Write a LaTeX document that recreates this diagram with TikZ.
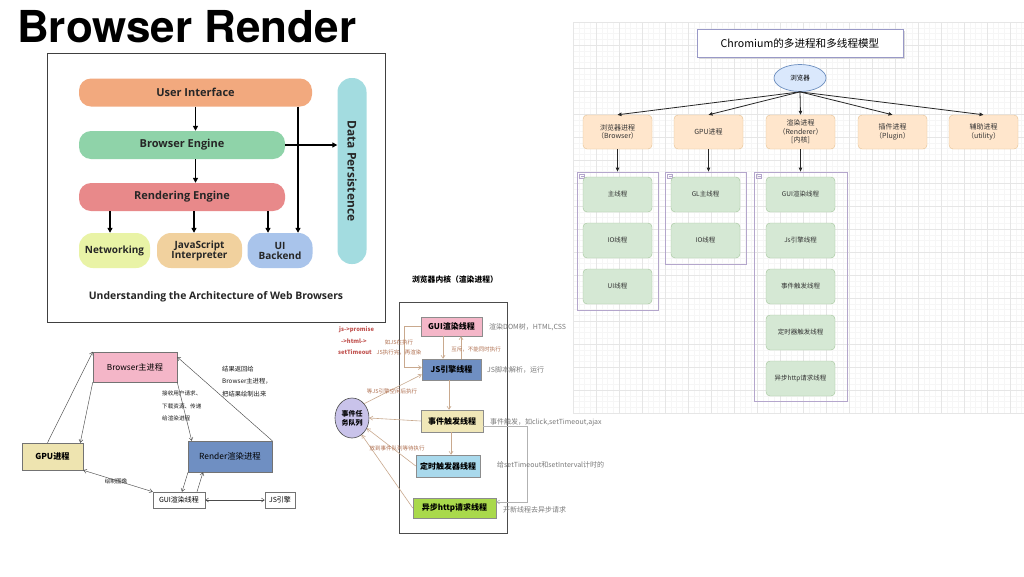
\documentclass[tikz,border=0pt]{standalone}
\usepackage{fontspec}
\newfontfamily\cjk{Noto Sans CJK SC}
\newfontfamily\heros{TeX Gyre Heros}
\newfontfamily\opens{Open Sans}
\usetikzlibrary{arrows.meta,shapes.geometric,shapes.misc}
\definecolor{uiC}{HTML}{F2A97E}
\definecolor{beC}{HTML}{8FD3A9}
\definecolor{reC}{HTML}{E8898A}
\definecolor{netC}{HTML}{E9F3A6}
\definecolor{jsC}{HTML}{F1D19E}
\definecolor{uibC}{HTML}{A9C4EB}
\definecolor{dpC}{HTML}{A3DCE0}
\definecolor{procF}{HTML}{FFE6CC}
\definecolor{procD}{HTML}{E6C190}
\definecolor{thrF}{HTML}{D5E8D4}
\definecolor{thrD}{HTML}{A3C49A}
\definecolor{contD}{HTML}{B4A6CC}
\definecolor{ellF}{HTML}{DAE8FC}
\definecolor{ellD}{HTML}{6C8EBF}
\definecolor{pinkC}{HTML}{F4B6C8}
\definecolor{khakiC}{HTML}{EEE4B0}
\definecolor{steelC}{HTML}{6F8FC2}
\definecolor{skyC}{HTML}{A9D9EC}
\definecolor{limeC}{HTML}{A9D94B}
\definecolor{lavC}{HTML}{C9C3EA}
\definecolor{tanC}{HTML}{C9A98E}
\definecolor{brownT}{HTML}{B07050}
\definecolor{redT}{HTML}{C0504D}
\definecolor{grayT}{HTML}{7A7A7A}
\definecolor{gridMinor}{HTML}{F6F6F6}
\definecolor{gridMajor}{HTML}{E6E6E6}
\begin{document}
\begin{tikzpicture}[x=1pt,y=-1pt,font=\cjk,
  gminor/.style={draw=gridMinor,line width=0.4pt},
  gmajor/.style={draw=gridMajor,line width=0.5pt},
  pone/.style={font=\opens\bfseries\fontsize{11}{12}\selectfont,align=center,inner sep=0pt,text=black!85},
  ptwo/.style={font=\opens\bfseries\fontsize{10}{11}\selectfont,align=center,inner sep=0pt,text=black!85},
  arrA/.style={line width=1.3pt,-{Triangle[length=5pt,width=5pt]}},
  proc/.style={draw=procD,fill=procF,rounded corners=4pt,minimum width=69pt,minimum height=34pt,
    font=\cjk\fontsize{7}{8.5}\selectfont,align=center,text=black!80,inner sep=1pt},
  thr/.style={draw=thrD,fill=thrF,rounded corners=4pt,minimum width=69pt,minimum height=35pt,
    font=\cjk\fontsize{6.5}{8}\selectfont,align=center,text=black!80,inner sep=1pt},
  cont/.style={draw=contD,line width=0.8pt,inner sep=0pt},
  arrB/.style={draw=black!85,line width=0.8pt,-{Triangle[length=4pt,width=3.5pt]}},
  bbox/.style={draw=black!55,line width=0.5pt,inner sep=1pt,align=center},
  arrC/.style={draw=black!70,line width=0.45pt,-{Straight Barb[length=3pt,width=4pt]}},
  arrCC/.style={draw=black!70,line width=0.45pt,{Straight Barb[length=3pt,width=4pt]}-{Straight Barb[length=3pt,width=4pt]}},
  arrT/.style={draw=tanC,line width=0.6pt,-{Straight Barb[length=3pt,width=4pt]}},
  lblS/.style={font=\cjk\fontsize{5.6}{12.5}\selectfont,inner sep=0pt,align=left,text=black!90},
  lblB/.style={font=\cjk\fontsize{5.5}{7}\selectfont,inner sep=0pt,text=brownT},
  lblG/.style={font=\cjk\fontsize{7}{8}\selectfont,inner sep=0pt,text=grayT,anchor=west},
  lblR/.style={font=\cjk\bfseries\fontsize{5.8}{7}\selectfont,text=redT,inner sep=0pt,anchor=west},
  tbox/.style={draw=black!45,line width=0.5pt,inner sep=1pt,align=center,font=\cjk\bfseries\fontsize{8}{9}\selectfont}
]
\useasboundingbox[fill=white] (0,0) rectangle (1024,576);

% ---------- grid of the draw.io screenshot ----------
\foreach \i in {0,...,78} { \draw[gminor] ({573+5.75*\i},22) -- ({573+5.75*\i},413); }
\foreach \j in {0,...,68} { \draw[gminor] (573,{22+5.75*\j}) -- (1024,{22+5.75*\j}); }
\foreach \i in {0,...,19} { \draw[gmajor] ({573+23*\i},22) -- ({573+23*\i},413); }
\foreach \j in {0,...,17} { \draw[gmajor] (573,{22+23*\j}) -- (1024,{22+23*\j}); }

% ---------- title ----------
\node[anchor=base west,inner sep=0pt,font=\heros\bfseries\fontsize{44}{44}\selectfont] (title) at (17,42) {Browser Render};

% ---------- panel 1 ----------
\draw[draw=black!75,line width=0.9pt] (47,53) rectangle (385,322);
\node[pone,fill=uiC,rounded corners=12pt,minimum width=233pt,minimum height=28pt] (ui) at (195.5,92.5) {User Interface};
\node[pone,fill=beC,rounded corners=12pt,minimum width=206pt,minimum height=28pt] (be) at (182,145) {Browser Engine};
\node[pone,fill=reC,rounded corners=12pt,minimum width=206pt,minimum height=28pt] (re) at (182,197) {Rendering Engine};
\node[ptwo,fill=netC,rounded corners=14pt,minimum width=71pt,minimum height=35pt] (net) at (114.5,250.5) {Networking};
\node[ptwo,fill=jsC,rounded corners=14pt,minimum width=85pt,minimum height=35pt] (js) at (199.5,250.5) {JavaScript\\[-1pt]Interpreter};
\node[ptwo,fill=uibC,rounded corners=14pt,minimum width=65pt,minimum height=35pt] (uib) at (280,250.5) {UI\\[-1pt]Backend};
\node[pone,fill=dpC,rounded corners=14pt,minimum width=29pt,minimum height=186pt] (dp) at (352,171) {};
\node[pone,rotate=-90,font=\opens\bfseries\fontsize{12}{13}\selectfont] (dpt) at (dp.center) {Data Persistence};
\node[pone,font=\opens\bfseries\fontsize{10.4}{12}\selectfont] (cap) at (216,297) {Understanding the Architecture of Web Browsers};
\coordinate (a110) at (110,0);
\coordinate (a194) at (194,0);
\coordinate (a268) at (268,0);
\coordinate (a298) at (298,0);
\draw[arrA] (ui.south) -- (ui.south |- be.north);
\draw[arrA] (be.south -| ui.south) -- (re.north -| ui.south);
\draw[arrA] (re.south -| a110) -- (net.north -| a110);
\draw[arrA] (re.south -| a194) -- (js.north -| a194);
\draw[arrA] (re.south -| a268) -- (uib.north -| a268);
\draw[arrA] (ui.south -| a298) -- (uib.north -| a298);
\draw[arrA] (be.east) -- (dp.west |- be.east);

% ---------- panel 2 : Chromium model ----------
\fill[black!15] (699,31) rectangle (905,59);
\node[draw=black!55!blue!40,fill=white,line width=1pt,minimum width=206pt,minimum height=28pt,font=\cjk\fontsize{10.6}{12}\selectfont] (ctitle) at (800,43) {Chromium的多进程和多线程模型};
\node[ellipse,draw=ellD,fill=ellF,line width=0.7pt,minimum width=52pt,minimum height=27pt,inner sep=0pt,font=\cjk\fontsize{6.5}{8}\selectfont] (brw) at (800,78) {浏览器};
\node[proc] (p1) at (617.5,132) {浏览器进程\\（Browser）};
\node[proc] (p2) at (708.5,132) {GPU进程};
\node[proc] (p3) at (800.5,132) {渲染进程\\（Renderer）\\{}[内核]};
\node[proc] (p4) at (892.5,132) {插件进程\\（Plugin）};
\node[proc] (p5) at (983.5,132) {辅助进程\\（utility）};
\foreach \p in {p1,p2,p3,p4,p5} { \draw[arrB] (brw.south) -- (\p.north); }

\node[cont,minimum width=81pt,minimum height=138pt] (c1) at (617.5,241) {};
\node[cont,minimum width=81pt,minimum height=92pt] (c2) at (705.5,218) {};
\node[cont,minimum width=93pt,minimum height=229pt] (c3) at (800.5,286.5) {};
\foreach \c in {c1,c2,c3} {
  \draw[draw=contD,line width=0.5pt] ([shift={(3pt,-3pt)}]\c.north west) rectangle ([shift={(8pt,-7pt)}]\c.north west);
  \draw[draw=contD,line width=0.5pt] ([shift={(4pt,-5pt)}]\c.north west) -- ([shift={(7pt,-5pt)}]\c.north west);
}
\draw[arrB] (p1.south) -- (p1.south |- c1.north);
\draw[arrB] (p2.south) -- (p2.south |- c2.north);
\draw[arrB] (p3.south) -- (p3.south |- c3.north);

\node[thr] (t11) at (617.5,194.5) {主线程};
\node[thr] (t12) at (617.5,240.5) {IO线程};
\node[thr] (t13) at (617.5,286.5) {UI线程};
\node[thr] (t21) at (705.5,194.5) {GL主线程};
\node[thr] (t22) at (705.5,240.5) {IO线程};
\node[thr] (t31) at (800.5,194.5) {GUI渲染线程};
\node[thr] (t32) at (800.5,240.5) {Js引擎线程};
\node[thr] (t33) at (800.5,286.5) {事件触发线程};
\node[thr] (t34) at (800.5,332.5) {定时器触发线程};
\node[thr] (t35) at (800.5,378.5) {异步http请求线程};

% ---------- panel 3 : processes ----------
\node[bbox,fill=pinkC,minimum width=84pt,minimum height=30pt,font=\cjk\fontsize{8.2}{9}\selectfont] (bm) at (135,367) {Browser主进程};
\node[bbox,fill=khakiC,minimum width=61pt,minimum height=27pt,font=\cjk\bfseries\fontsize{8.2}{9}\selectfont] (gpu) at (52.5,456.5) {GPU进程};
\node[bbox,fill=steelC,minimum width=84pt,minimum height=31pt,font=\cjk\fontsize{8.4}{9}\selectfont] (rd) at (230,456.5) {Render渲染进程};
\node[bbox,fill=white,minimum width=52pt,minimum height=16pt,font=\cjk\fontsize{7}{8}\selectfont] (gui) at (179,500) {GUI渲染线程};
\node[bbox,fill=white,minimum width=30pt,minimum height=16pt,font=\cjk\fontsize{7}{8}\selectfont] (jse) at (280,500) {JS引擎};
\draw[arrC] ([xshift=-5pt]gpu.north) -- (bm.north west);
\draw[arrC] (bm.south west) -- ([xshift=-3pt]gpu.north east);
\draw[arrC] (bm.south east) -- ([xshift=4pt]rd.north west);
\draw[arrC] (rd.north east) -- ([yshift=10pt]bm.east);
\draw[arrCC] (gpu.south east) -- (gui.north west);
\draw[arrC] ([xshift=18pt]gui.north) -- ([xshift=-27pt]rd.south);
\draw[arrC] ([xshift=-42pt]rd.south) -- ([xshift=3pt]gui.north);
\draw[arrCC] (gui.east) -- (jse.west);
\node[lblS,anchor=north west] (l31) at (162,391) {接收用户请求、\\下载资源、传递\\给渲染进程};
\node[lblS,anchor=north west,font=\cjk\fontsize{6.3}{12.5}\selectfont] (l32) at (222,365.5) {结果返回给\\Browser主进程，\\把结果绘制出来};
\node[lblS] (l33) at (116,481) {绘制图像};

% ---------- panel 4 : renderer kernel ----------
\node[font=\cjk\bfseries\fontsize{7.8}{9}\selectfont,inner sep=0pt] (k4) at (455,280) {浏览器内核（渲染进程）};
\draw[draw=black!70,line width=0.6pt] (399,302) rectangle (507,533);
\node[tbox,fill=pinkC,minimum width=61pt,minimum height=19pt] (gui4) at (451.5,326.5) {GUI渲染线程};
\node[tbox,fill=steelC,minimum width=59pt,minimum height=21pt] (js4) at (451.5,369.5) {JS引擎线程};
\node[tbox,fill=khakiC!90!white,minimum width=62pt,minimum height=22pt] (ev4) at (452,421) {事件触发线程};
\node[tbox,fill=skyC,minimum width=64pt,minimum height=22pt] (tm4) at (448,466) {定时触发器线程};
\node[tbox,fill=limeC,minimum width=83pt,minimum height=20pt] (hp4) at (454.5,508) {异步http请求线程};
\node[ellipse,draw=black!70,fill=lavC,line width=0.6pt,minimum width=34pt,minimum height=40pt,inner sep=0pt,align=center,font=\cjk\bfseries\fontsize{7}{9}\selectfont] (q4) at (352,418) {事件任\\务队列};

\draw[arrT] ([xshift=-8.5pt]gui4.south) -- ([xshift=-8.5pt]js4.north);
\draw[arrT] ([xshift=9.5pt]js4.north) -- ([xshift=9.5pt]gui4.south);
\draw[arrT] (gui4.west) -- ++(-16,0) |- ([yshift=2pt]js4.west);
\draw[arrT] ([xshift=-2.5pt]js4.south) -- ([xshift=-3pt]ev4.north);
\draw[arrT] ([xshift=-1pt]ev4.south) -- ([xshift=3pt]tm4.north);
\draw[arrT] (q4.north east) -- ([yshift=-5pt]js4.west);
\draw[arrT] (ev4.west) -- (q4.east);
\draw[arrT] (tm4.west) -- (q4.-35);
\draw[arrT] (hp4.west) -- (q4.-60);
\draw[draw=black!30,line width=0.5pt,-{Straight Barb[length=3pt,width=4pt]}] ([yshift=-5pt]ev4.east) -- (527,426) -- (527,502) -- ([yshift=6pt]hp4.east);

\node[lblR] (r1) at (339,330) {js->promise};
\node[lblR] (r2) at (341,341) {->html->};
\node[lblR] (r3) at (338,352) {setTimeout};
\node[lblB] (b1) at (399,342) {如JS在执行};
\node[lblB] (b2) at (399,352) {JS执行完，再渲染};
\node[lblB] (b3) at (476,349) {互斥，不能同时执行};
\node[lblB] (b4) at (392,391) {等JS引擎空闲后执行};
\node[lblB] (b5) at (397,448) {放到事件队列等待执行};
\node[lblG] (g1) at (489,327) {渲染DOM树，HTML,CSS};
\node[lblG] (g2) at (487,370) {JS脚本解析，运行};
\node[lblG] (g3) at (490,422) {事件触发，如click,setTimeout,ajax};
\node[lblG] (g4) at (497,465) {给setTimeout和setInterval计时的};
\node[lblG] (g5) at (503,510) {开新线程去异步请求};
\end{tikzpicture}
\end{document}
